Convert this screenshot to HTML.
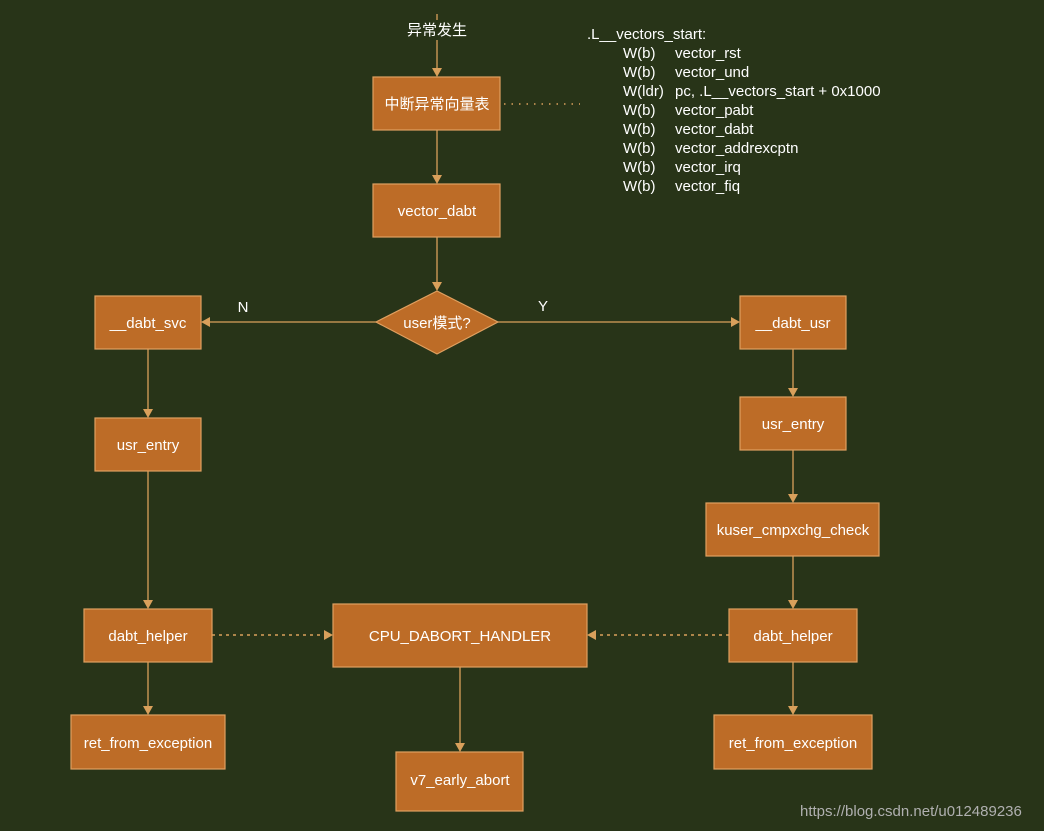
<!DOCTYPE html>
<html><head><meta charset="utf-8"><style>
html,body{margin:0;padding:0;background:#283418;}
svg{display:block}
text{font-family:"Liberation Sans","Noto Sans CJK SC",sans-serif;font-size:15px;fill:#ffffff;}
.b{fill:#bd6c27;stroke:#e0a060;stroke-width:1.2}
.l{stroke:#d9a05b;stroke-width:1.3;fill:none}
.d{stroke:#d9a05b;stroke-width:1.5;fill:none;stroke-dasharray:3,4}
.a{fill:#d9a05b}
</style></head><body>
<svg width="1044" height="831" viewBox="0 0 1044 831">
<rect width="1044" height="831" fill="#283418"/>
<!-- lines -->
<line class="l" x1="437" y1="14" x2="437" y2="20"/>
<line class="l" x1="437" y1="40" x2="437" y2="70"/>
<polygon class="a" points="432,68 442,68 437,77"/>
<line class="l" x1="437" y1="130" x2="437" y2="177"/>
<polygon class="a" points="432,175 442,175 437,184"/>
<line class="l" x1="437" y1="237" x2="437" y2="284"/>
<polygon class="a" points="432,282 442,282 437,291"/>
<line class="l" x1="376" y1="322" x2="208" y2="322"/>
<polygon class="a" points="210,317 210,327 201,322"/>
<line class="l" x1="498" y1="322" x2="733" y2="322"/>
<polygon class="a" points="731,317 731,327 740,322"/>
<line class="l" x1="148" y1="349" x2="148" y2="411"/>
<polygon class="a" points="143,409 153,409 148,418"/>
<line class="l" x1="148" y1="471" x2="148" y2="602"/>
<polygon class="a" points="143,600 153,600 148,609"/>
<line class="l" x1="148" y1="662" x2="148" y2="708"/>
<polygon class="a" points="143,706 153,706 148,715"/>
<line class="l" x1="793" y1="349" x2="793" y2="390"/>
<polygon class="a" points="788,388 798,388 793,397"/>
<line class="l" x1="793" y1="450" x2="793" y2="496"/>
<polygon class="a" points="788,494 798,494 793,503"/>
<line class="l" x1="793" y1="556" x2="793" y2="602"/>
<polygon class="a" points="788,600 798,600 793,609"/>
<line class="l" x1="793" y1="662" x2="793" y2="708"/>
<polygon class="a" points="788,706 798,706 793,715"/>
<line class="l" x1="460" y1="667" x2="460" y2="745"/>
<polygon class="a" points="455,743 465,743 460,752"/>
<line class="d" x1="212" y1="635" x2="326" y2="635"/>
<polygon class="a" points="324,630 324,640 333,635"/>
<line class="d" x1="729" y1="635" x2="594" y2="635"/>
<polygon class="a" points="596,630 596,640 587,635"/>
<line class="d" x1="504" y1="104" x2="580" y2="104" style="stroke-dasharray:1.5,6"/>
<!-- boxes -->
<rect class="b" x="373" y="77" width="127" height="53"/>
<rect class="b" x="373" y="184" width="127" height="53"/>
<polygon class="b" points="437,291 498,322 437,354 376,322"/>
<rect class="b" x="95" y="296" width="106" height="53"/>
<rect class="b" x="740" y="296" width="106" height="53"/>
<rect class="b" x="95" y="418" width="106" height="53"/>
<rect class="b" x="740" y="397" width="106" height="53"/>
<rect class="b" x="706" y="503" width="173" height="53"/>
<rect class="b" x="84" y="609" width="128" height="53"/>
<rect class="b" x="333" y="604" width="254" height="63"/>
<rect class="b" x="729" y="609" width="128" height="53"/>
<rect class="b" x="71" y="715" width="154" height="54"/>
<rect class="b" x="396" y="752" width="127" height="59"/>
<rect class="b" x="714" y="715" width="158" height="54"/>
<!-- text -->
<g text-anchor="middle">
<text x="437" y="35">异常发生</text>
<text x="437" y="109">中断异常向量表</text>
<text x="437" y="216">vector_dabt</text>
<text x="437" y="328">user模式?</text>
<text x="243" y="312">N</text>
<text x="543" y="311">Y</text>
<text x="148" y="328">__dabt_svc</text>
<text x="793" y="328">__dabt_usr</text>
<text x="148" y="450">usr_entry</text>
<text x="793" y="429">usr_entry</text>
<text x="793" y="535">kuser_cmpxchg_check</text>
<text x="148" y="641">dabt_helper</text>
<text x="460" y="641">CPU_DABORT_HANDLER</text>
<text x="793" y="641">dabt_helper</text>
<text x="148" y="748">ret_from_exception</text>
<text x="793" y="748">ret_from_exception</text>
<text x="460" y="785">v7_early_abort</text>
</g>
<text x="587" y="39">.L__vectors_start:</text>
<text x="623" y="58">W(b)</text><text x="675" y="58">vector_rst</text>
<text x="623" y="77">W(b)</text><text x="675" y="77">vector_und</text>
<text x="623" y="96">W(ldr)</text><text x="675" y="96">pc, .L__vectors_start + 0x1000</text>
<text x="623" y="115">W(b)</text><text x="675" y="115">vector_pabt</text>
<text x="623" y="134">W(b)</text><text x="675" y="134">vector_dabt</text>
<text x="623" y="153">W(b)</text><text x="675" y="153">vector_addrexcptn</text>
<text x="623" y="172">W(b)</text><text x="675" y="172">vector_irq</text>
<text x="623" y="191">W(b)</text><text x="675" y="191">vector_fiq</text>
<text x="800" y="816" style="fill:#b0b0b0;font-size:15px">https://blog.csdn.net/u012489236</text>
</svg>
</body></html>
